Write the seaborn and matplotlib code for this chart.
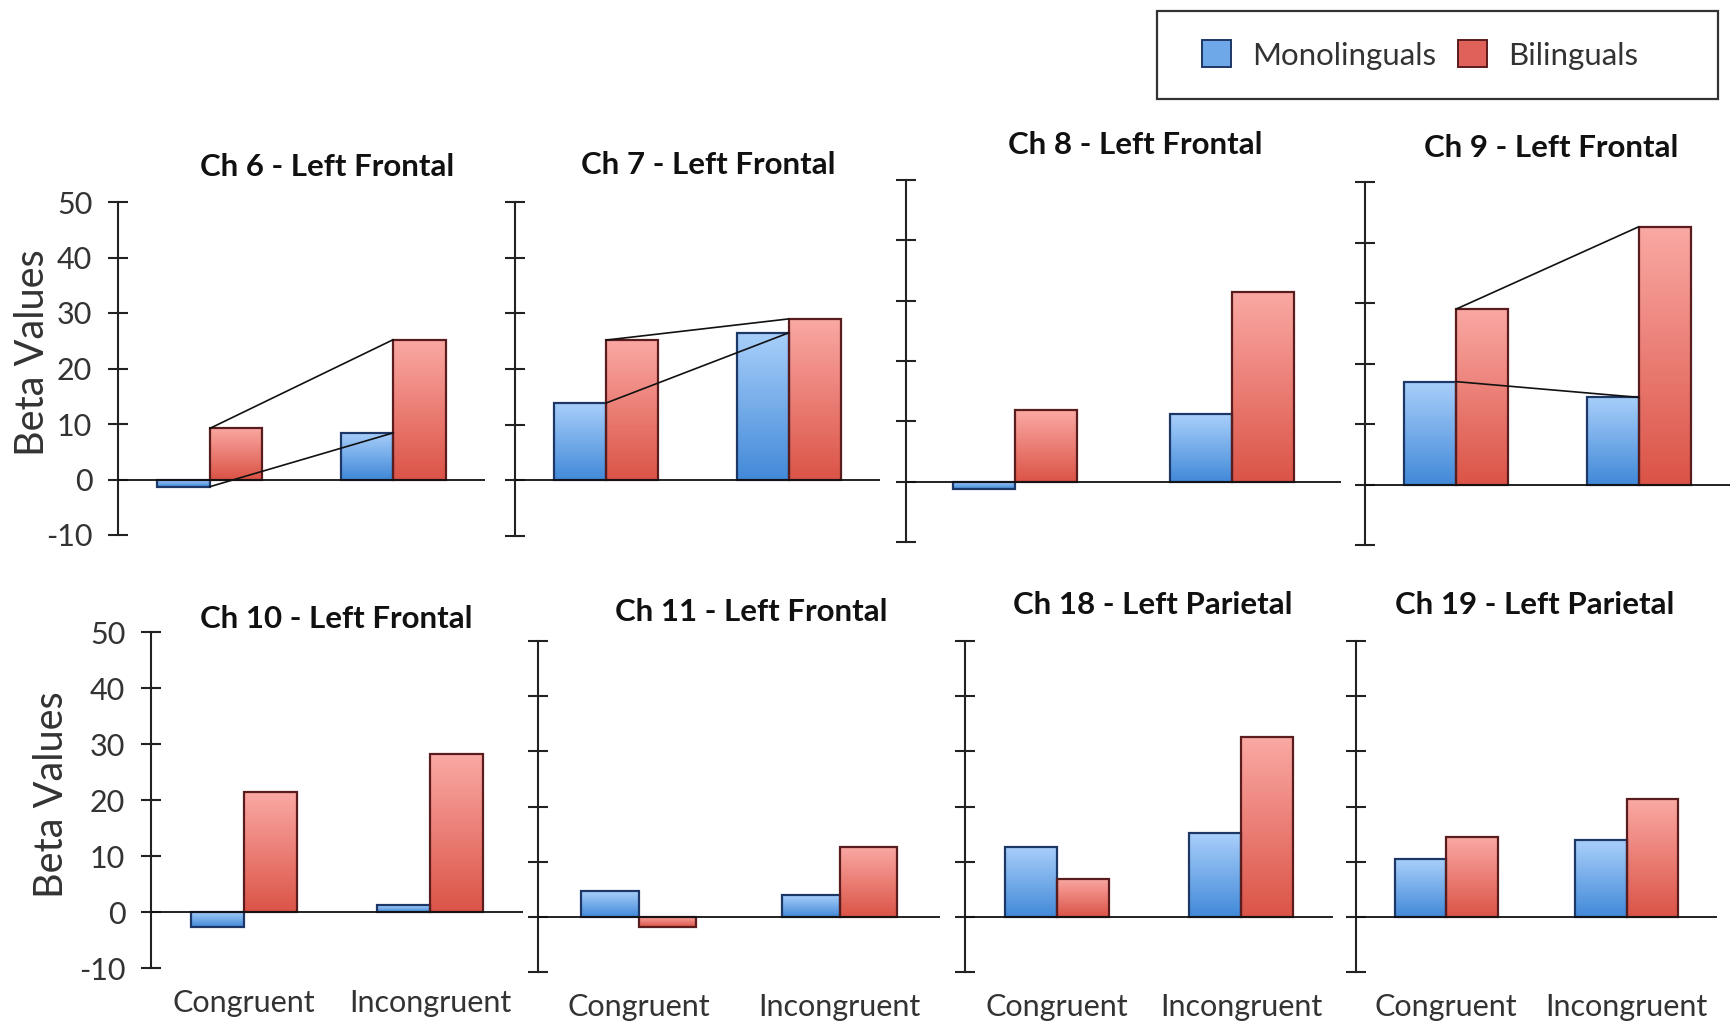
import numpy as np
import pandas as pd
import matplotlib
matplotlib.use("Agg")
import matplotlib.pyplot as plt
import seaborn as sns
from matplotlib.patches import Rectangle, Patch

sns.set_theme(style="white")
plt.rcParams['font.family'] = ['Lato', 'DejaVu Sans']
plt.rcParams['axes.unicode_minus'] = False

# data
categories = ['Congruent', 'Incongruent']
groups = ['Monolinguals', 'Bilinguals']
channels = ['Ch 6 - Left Frontal', 'Ch 7 - Left Frontal', 'Ch 8 - Left Frontal', 'Ch 9 - Left Frontal',
            'Ch 10 - Left Frontal', 'Ch 11 - Left Frontal', 'Ch 18 - Left Parietal', 'Ch 19 - Left Parietal']
mono = [[-1.3, 8.4], [13.9, 26.5], [-1.2, 11.2], [17.0, 14.4],
        [-2.7, 1.2], [4.7, 3.9], [12.7, 15.2], [10.4, 13.9]]
bili = [[9.2, 25.2], [25.2, 29.0], [11.9, 31.4], [29.0, 42.6],
        [21.4, 28.2], [-1.9, 12.7], [6.9, 32.6], [14.5, 21.3]]
trend_channels = ['Ch 6 - Left Frontal', 'Ch 7 - Left Frontal', 'Ch 9 - Left Frontal']
yticks = [-10, 0, 10, 20, 30, 40, 50]

# layout in pixels: left, right, top(50), bottom(-10)
W, H = 1730, 1024
boxes = [(118, 485, 202, 535), (515, 880, 202, 536), (906, 1341, 180, 542), (1365, 1730, 182, 545),
         (151, 523, 632, 968), (538, 940, 641, 972), (965, 1333, 641, 972), (1356, 1717, 641, 972)]
title_pos = [(327, 167), (708, 165), (1135, 145), (1551, 148),
             (336, 619), (751, 612), (1153, 605), (1535, 605)]

colors = ['#6fa8e8', '#e0605a']
light = [np.array([0.66, 0.81, 0.98]), np.array([0.98, 0.66, 0.64])]
dark = [np.array([0.26, 0.54, 0.85]), np.array([0.86, 0.33, 0.28])]
edges = ['#1d3766', '#5a1c1c']


def shade(ax, bars, top, bottom, edge):
    grad = np.linspace(0, 1, 64)[:, None, None]
    img = bottom + (top - bottom) * grad
    for bar in bars:
        x0, w = bar.get_x(), bar.get_width()
        y0, h = bar.get_y(), bar.get_height()
        lo, hi = min(y0, y0 + h), max(y0, y0 + h)
        im = ax.imshow(img, extent=(x0, x0 + w, lo, hi), origin='lower',
                       aspect='auto', zorder=1, interpolation='bilinear')
        im.set_clip_path(bar)
        bar.set_facecolor('none')
        bar.set_edgecolor(edge)
        bar.set_linewidth(1.6)
        bar.set_zorder(2)


fig = plt.figure(figsize=(W / 100, H / 100), dpi=100)

for i, name in enumerate(channels):
    l, r, t, b = boxes[i]
    ax = fig.add_axes([l / W, 1 - b / H, (r - l) / W, (b - t) / H])
    ax.patch.set_alpha(0)
    df = pd.DataFrame({'Condition': categories * 2,
                       'Group': [groups[0]] * 2 + [groups[1]] * 2,
                       'Beta': mono[i] + bili[i]})
    sns.barplot(data=df, x='Condition', y='Beta', hue='Group', order=categories,
                hue_order=groups, palette=colors, width=0.57, errorbar=None,
                legend=False, ax=ax)
    for k, cont in enumerate(ax.containers):
        shade(ax, cont, light[k], dark[k], edges[k])
    if name in trend_channels:
        ax.plot([0, 1], mono[i], color='#111111', lw=1.2, zorder=4)
        ax.plot([0, 1], bili[i], color='#111111', lw=1.2, zorder=4)
    ax.axhline(0, color='#111111', lw=1.3, zorder=3)
    ax.set_xlim(-0.5, 1.5)
    ax.set_ylim(-10, 50)
    ax.set_yticks(yticks)
    for s in ['top', 'right', 'bottom']:
        ax.spines[s].set_visible(False)
    ax.spines['left'].set_color('#222222')
    ax.spines['left'].set_linewidth(1.5)
    ax.tick_params(axis='y', direction='inout', length=15, width=1.5, colors='#222222',
                   labelsize=22, pad=11, labelcolor='#333333', left=True)
    ax.tick_params(axis='x', length=0, labelsize=22, pad=15, labelcolor='#333333')
    ax.set_xlabel('')
    ax.set_ylabel('')
    if i % 4 != 0:
        ax.tick_params(axis='y', labelleft=False)
    if i < 4:
        ax.tick_params(axis='x', labelbottom=False)
    tx, ty = title_pos[i]
    fig.text(tx / W, 1 - ty / H, name, ha='center', va='center',
             fontsize=22.5, fontweight='bold', color='#111111')

fig.text(33 / W, 1 - 353 / H, 'Beta Values', rotation=90, ha='center', va='center',
         fontsize=28.5, color='#333333')
fig.text(52 / W, 1 - 795 / H, 'Beta Values', rotation=90, ha='center', va='center',
         fontsize=28.5, color='#333333')

# legend box
fig.patches.append(Rectangle((1157 / W, 1 - 99 / H), 561 / W, 88 / H, transform=fig.transFigure,
                             fill=False, edgecolor='#333333', lw=1.6))
handles = [Patch(facecolor=colors[k], edgecolor=edges[k], lw=1.4) for k in range(2)]
fig.legend(handles, groups, loc='center left', bbox_to_anchor=(1202 / W, 1 - 55 / H),
           ncol=2, frameon=False, fontsize=22.5, borderpad=0, borderaxespad=0,
           handlelength=0.93, handleheight=0.93, handletextpad=0.67, columnspacing=0.7,
           labelcolor='#333333')

fig.savefig('out.png', dpi=100)
